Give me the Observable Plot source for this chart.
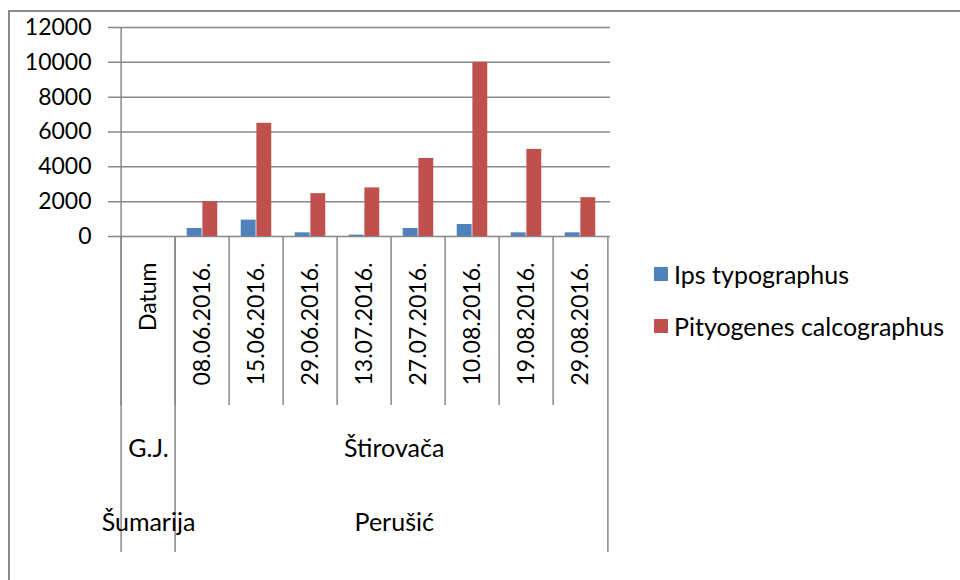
<!DOCTYPE html>
<html>
<head>
<meta charset="utf-8">
<script src="https://cdn.jsdelivr.net/npm/d3@7"></script>
<script src="https://cdn.jsdelivr.net/npm/@observablehq/plot@0.6"></script>
<style>
  body { margin: 0; background: #fff; font-family: Lato, "Noto Sans", sans-serif; }
  #wrap { position: relative; width: 960px; height: 580px; overflow: hidden; background: #fff; }
  #chart { position: absolute; left: 0; top: 0; }
  #frame { position: absolute; left: 8px; top: 10px; width: 1000px; height: 1000px; border: 2px solid #8a8a8a; pointer-events: none; }
  #legend { position: absolute; left: 654px; top: 0; font-size: 25px; color: #000; }
  .item { position: absolute; left: 0; white-space: nowrap; display: flex; align-items: center; }
  .sw { width: 14px; height: 14px; margin-right: 6px; }
</style>
</head>
<body>
<div id="wrap">
  <div id="chart"></div>
  <div id="legend"></div>
  <div id="frame"></div>
</div>
<script>
// ---- data ----
const categories = ["Datum", "08.06.2016.", "15.06.2016.", "29.06.2016.", "13.07.2016.", "27.07.2016.", "10.08.2016.", "19.08.2016.", "29.08.2016."];
const seriesNames = ["Ips typographus", "Pityogenes calcographus"];
const ipsValues = [null, 460, 940, 210, 80, 460, 690, 210, 210];
const pityValues = [null, 2000, 6500, 2460, 2790, 4480, 10000, 5000, 2230];
const seriesColors = ["#4f81bd", "#c0504d"];
const yTicks = [0, 2000, 4000, 6000, 8000, 10000, 12000];
const gjGroups = [
  {label: "G.J.", from: "Datum", to: "Datum"},
  {label: "Štirovača", from: "08.06.2016.", to: "29.08.2016."}
];
const sumGroups = [
  {label: "Šumarija", from: "Datum", to: "Datum"},
  {label: "Perušić", from: "08.06.2016.", to: "29.08.2016."}
];

// ---- layout ----
const W = 960, H = 580;
const mL = 117, mR = 350, mT = 27, mB = 344;
const bw = (W - mL - mR) / categories.length;  // category band width
const barW = bw / 3.5;                            // Excel gap width 150%
const gridColor = "#888888";
const fs = 23, fsText = 25;

const rows = [];
categories.forEach((c, i) => {
  if (ipsValues[i] != null) rows.push({cat: c, series: seriesNames[0], value: ipsValues[i]});
  if (pityValues[i] != null) rows.push({cat: c, series: seriesNames[1], value: pityValues[i]});
});
const idx = c => categories.indexOf(c);

const marks = [
  // gridlines + left ticks
  Plot.ruleY(yTicks, {y: d => d, stroke: gridColor, strokeWidth: 1.5, insetLeft: -9}),
  // y axis line
  Plot.ruleX([categories[0]], {x: d => d, dx: -bw / 2, stroke: gridColor, strokeWidth: 1.5}),
  // y tick labels
  Plot.text(yTicks, {y: d => d, text: d => String(d), frameAnchor: "left", textAnchor: "end", dx: -26, fill: "#000", fontSize: fs}),
  // bars
  Plot.barY(rows.filter(d => d.series === seriesNames[0]), {x: "cat", y: "value", fill: seriesColors[0], insetLeft: 0.75 * barW, insetRight: bw - 1.75 * barW}),
  Plot.barY(rows.filter(d => d.series === seriesNames[1]), {x: "cat", y: "value", fill: seriesColors[1], insetLeft: 1.75 * barW, insetRight: 0.75 * barW}),
  // category boundaries (level 1)
  Plot.ruleX(categories, {x: d => d, dx: -bw / 2, y1: 0, insetBottom: -(405 - 236), stroke: gridColor, strokeWidth: 1.5}),
  Plot.ruleX([categories[categories.length - 1]], {x: d => d, dx: bw / 2, y1: 0, insetBottom: -(552 - 236), stroke: gridColor, strokeWidth: 1.5}),
  // group boundaries (levels 2 and 3)
  Plot.ruleX(gjGroups, {x: d => d.from, dx: -bw / 2, y1: 0, insetBottom: -(552 - 236), stroke: gridColor, strokeWidth: 1.5}),
  // date labels
  Plot.text(categories, {x: d => d, text: d => d, frameAnchor: "bottom", rotate: -90, textAnchor: "end", lineAnchor: "middle", dy: 26, fill: "#000", fontSize: fs})
];
gjGroups.forEach(g => {
  marks.push(Plot.text([g], {x: d => d.from, text: d => d.label, frameAnchor: "bottom", lineAnchor: "middle", dy: 448 - 236, dx: (idx(g.to) - idx(g.from)) * bw / 2, fill: "#000", fontSize: fsText}));
});
sumGroups.forEach(g => {
  marks.push(Plot.text([g], {x: d => d.from, text: d => d.label, frameAnchor: "bottom", lineAnchor: "middle", dy: 522 - 236, dx: (idx(g.to) - idx(g.from)) * bw / 2, fill: "#000", fontSize: fsText}));
});

const plot = Plot.plot({
  width: W, height: H,
  marginLeft: mL, marginRight: mR, marginTop: mT, marginBottom: mB,
  style: {background: "transparent", fontFamily: "Lato, 'Noto Sans', sans-serif", fontSize: fs + "px", color: "#000", overflow: "visible"},
  x: {type: "band", domain: categories, padding: 0, axis: null},
  y: {domain: [0, 12000], axis: null},
  marks
});
document.getElementById("chart").appendChild(plot);

// legend
const legend = document.getElementById("legend");
const legendTops = [259, 311];
seriesNames.forEach((s, i) => {
  const it = document.createElement("div");
  it.className = "item";
  it.style.top = legendTops[i] + "px";
  const sw = document.createElement("span");
  sw.className = "sw";
  sw.style.background = seriesColors[i];
  const tx = document.createElement("span");
  tx.textContent = s;
  it.appendChild(sw); it.appendChild(tx);
  legend.appendChild(it);
});
</script>
</body>
</html>
